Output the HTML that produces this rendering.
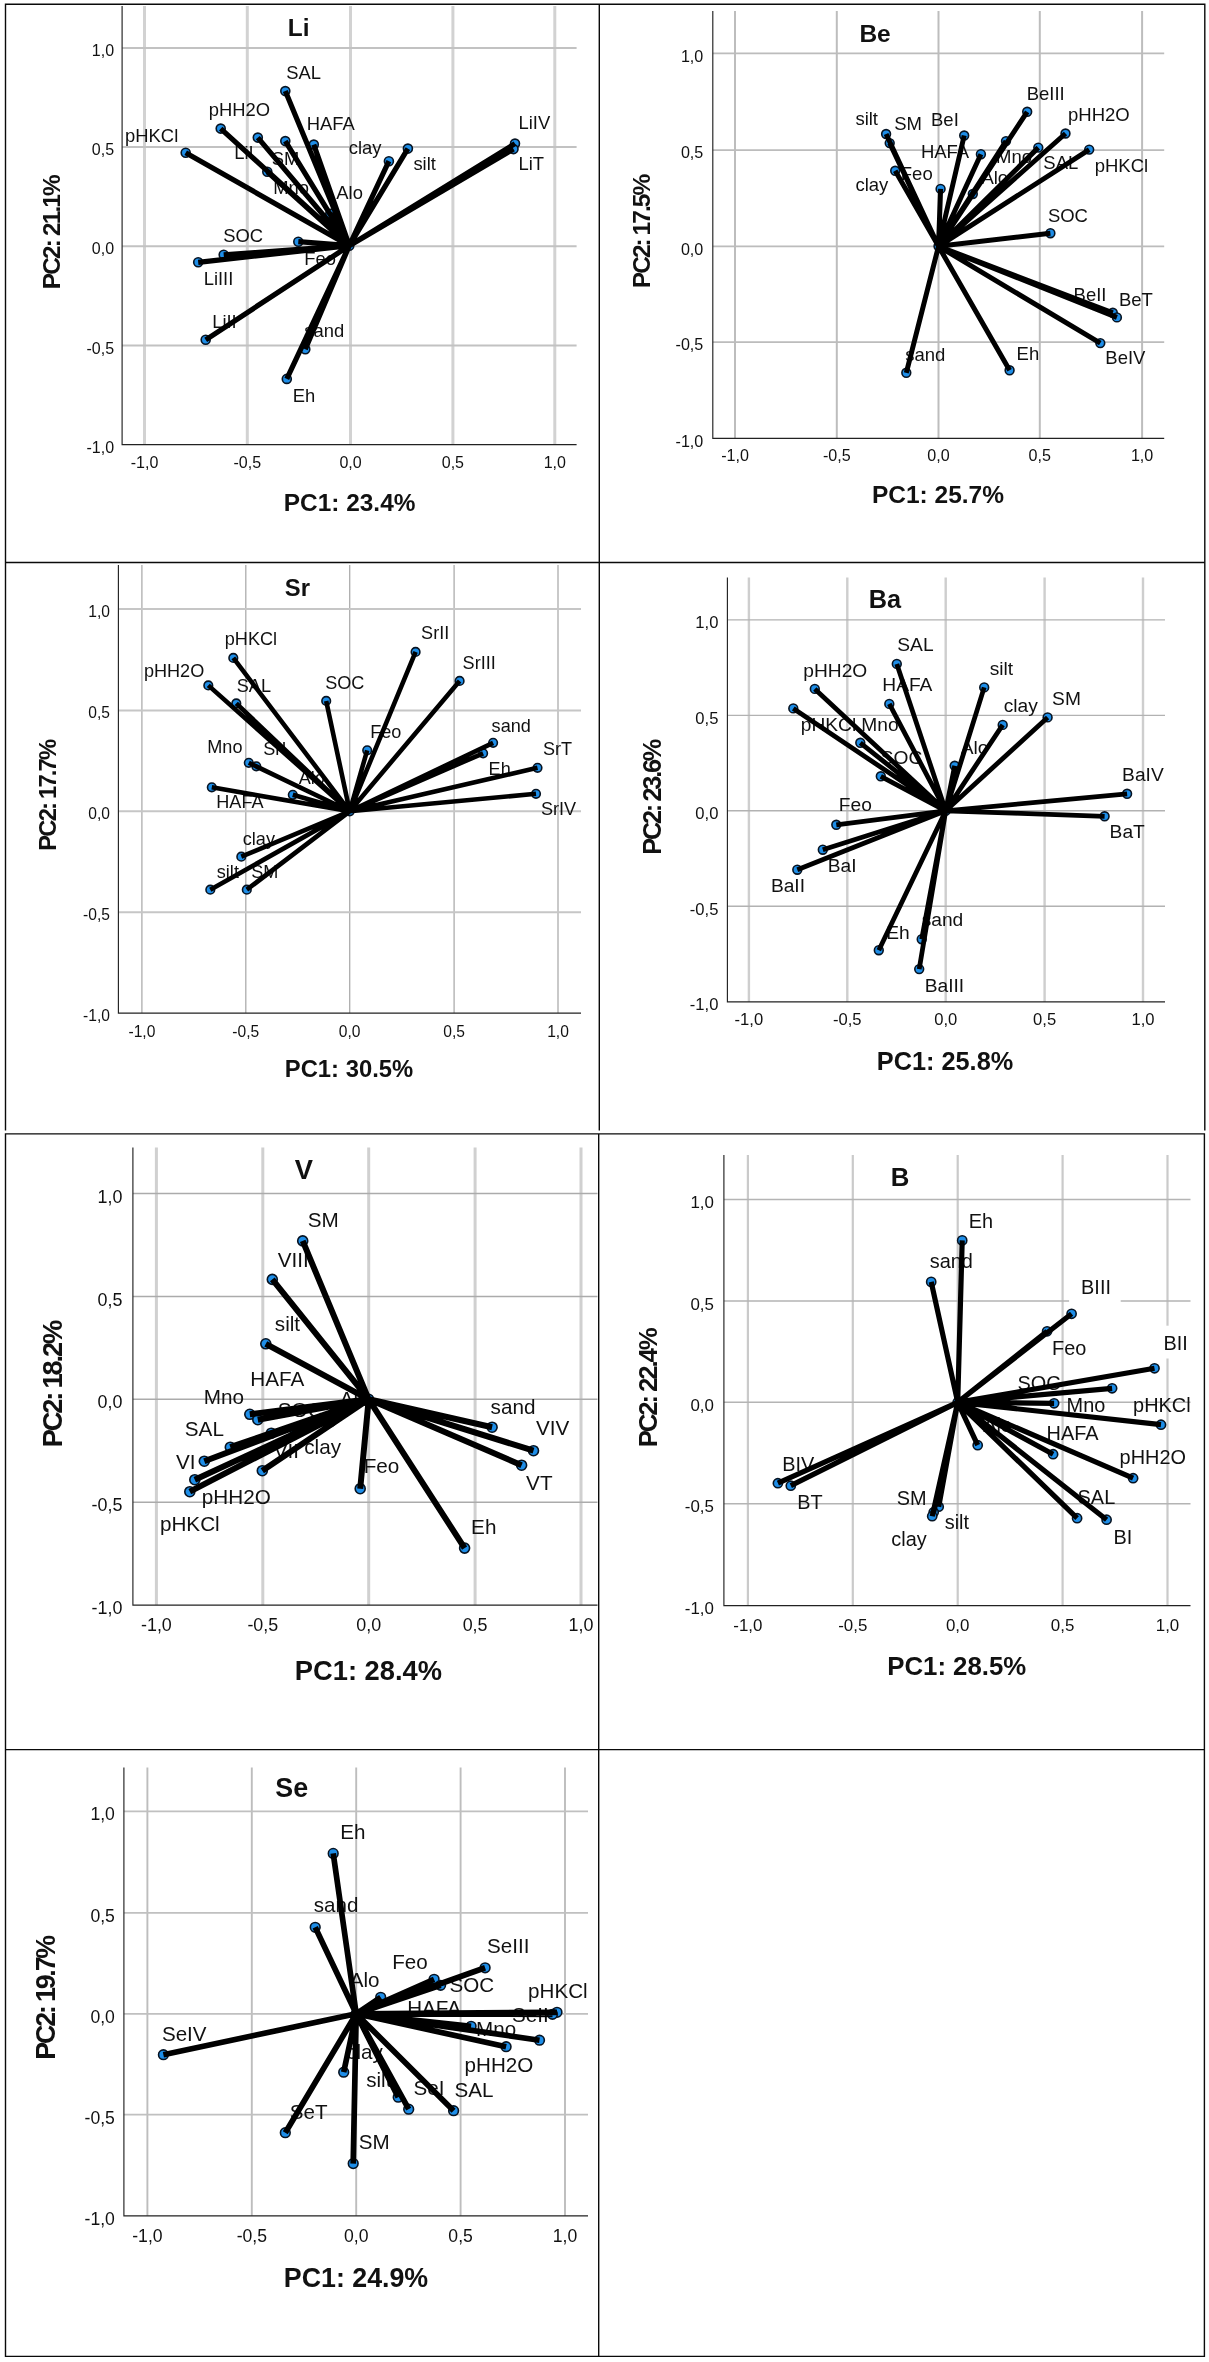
<!DOCTYPE html>
<html><head><meta charset="utf-8"><title>PCA biplots</title>
<style>html,body{margin:0;padding:0;background:#fff}svg{display:block;filter:blur(0.4px)}</style></head>
<body>
<svg width="1209" height="2362" viewBox="0 0 1209 2362" font-family="Liberation Sans, sans-serif">
<rect width="1209" height="2362" fill="#fff"/>
<g><path d="M144.5 6V444.6M247.3 6V444.6M350.5 6V444.6M452.9 6V444.6M554.8 6V444.6" stroke="#d2d2d2" stroke-width="3.0" fill="none"/><path d="M122.1 48H576.6M122.1 147.1H576.6M122.1 246.2H576.6M122.1 345.4H576.6" stroke="#c2c2c2" stroke-width="2.0" fill="none"/><path d="M122.1 6V444.6H576.6" stroke="#222" stroke-width="1.15" fill="none"/><g font-size="16" fill="#111"><text x="114.1" y="56.2" text-anchor="end">1,0</text><text x="114.1" y="155.3" text-anchor="end">0,5</text><text x="114.1" y="254.4" text-anchor="end">0,0</text><text x="114.1" y="353.6" text-anchor="end">-0,5</text><text x="114.1" y="452.8" text-anchor="end">-1,0</text><text x="144.5" y="468" text-anchor="middle">-1,0</text><text x="247.3" y="468" text-anchor="middle">-0,5</text><text x="350.5" y="468" text-anchor="middle">0,0</text><text x="452.9" y="468" text-anchor="middle">0,5</text><text x="554.8" y="468" text-anchor="middle">1,0</text></g><text x="287.8" y="36" font-size="24.4" font-weight="bold" fill="#111">Li</text><text x="283.8" y="510.5" font-size="24.4" font-weight="bold" fill="#111" textLength="131.6" lengthAdjust="spacing">PC1: 23.4%</text><text transform="translate(60.1 289.3) rotate(-90)" font-size="24.4" font-weight="bold" fill="#111" textLength="115.1" lengthAdjust="spacing">PC2: 21.1%</text><g font-size="18.4" fill="#111"><text x="286.3" y="79.4">SAL</text><text x="208.7" y="115.9">pHH2O</text><text x="125.1" y="142.4">pHKCl</text><text x="234.2" y="159">LiI</text><text x="271.8" y="164.5">SM</text><text x="306.8" y="129.9">HAFA</text><text x="273.3" y="193.5">Mno</text><text x="336.3" y="199">Alo</text><text x="348.8" y="153.5">clay</text><text x="413.4" y="170">silt</text><text x="518.5" y="129.4">LiIV</text><text x="518.5" y="170">LiT</text><text x="223.2" y="241.5">SOC</text><text x="304.3" y="264.6">Feo</text><text x="203.7" y="284.6">LiIII</text><text x="212.2" y="327.6">LiII</text><text x="304.3" y="337.1">sand</text><text x="292.8" y="401.7">Eh</text></g><g fill="#1e8ee8" stroke="#061322" stroke-width="1.6"><circle cx="285.3" cy="91.1" r="4.5"/><circle cx="220.7" cy="128.6" r="4.5"/><circle cx="185.7" cy="152.7" r="4.5"/><circle cx="257.8" cy="137.6" r="4.5"/><circle cx="285.3" cy="141.1" r="4.5"/><circle cx="313.8" cy="144.6" r="4.5"/><circle cx="267.3" cy="171.7" r="4.5"/><circle cx="330.3" cy="213.7" r="4.5"/><circle cx="388.9" cy="161.2" r="4.5"/><circle cx="407.9" cy="148.6" r="4.5"/><circle cx="515" cy="143.6" r="4.5"/><circle cx="513.5" cy="149.1" r="4.5"/><circle cx="298.3" cy="241.7" r="4.5"/><circle cx="223.7" cy="254.8" r="4.5"/><circle cx="198.2" cy="262.3" r="4.5"/><circle cx="205.7" cy="339.8" r="4.5"/><circle cx="305.3" cy="349.3" r="4.5"/><circle cx="286.8" cy="378.9" r="4.5"/><circle cx="349.3" cy="245.7" r="4.5"/></g><path d="M349.3 245.7L285.3 91.1M349.3 245.7L220.7 128.6M349.3 245.7L185.7 152.7M349.3 245.7L257.8 137.6M349.3 245.7L285.3 141.1M349.3 245.7L313.8 144.6M349.3 245.7L267.3 171.7M349.3 245.7L330.3 213.7M349.3 245.7L388.9 161.2M349.3 245.7L407.9 148.6M349.3 245.7L515 143.6M349.3 245.7L513.5 149.1M349.3 245.7L298.3 241.7M349.3 245.7L223.7 254.8M349.3 245.7L198.2 262.3M349.3 245.7L205.7 339.8M349.3 245.7L305.3 349.3M349.3 245.7L286.8 378.9" stroke="#000" stroke-width="5.2" stroke-linecap="butt" fill="none"/></g>
<g><path d="M735 11.1V438.3M836.8 11.1V438.3M938.5 11.1V438.3M1039.8 11.1V438.3M1142.1 11.1V438.3" stroke="#bdbdbd" stroke-width="2.0" fill="none"/><path d="M712.8 53.4H1164.2M712.8 150.1H1164.2M712.8 246.3H1164.2M712.8 342.1H1164.2" stroke="#bcbcbc" stroke-width="1.7" fill="none"/><path d="M712.8 11.1V438.3H1164.2" stroke="#222" stroke-width="1.15" fill="none"/><g font-size="16.1" fill="#111"><text x="703.3" y="61.6" text-anchor="end">1,0</text><text x="703.3" y="158.3" text-anchor="end">0,5</text><text x="703.3" y="254.5" text-anchor="end">0,0</text><text x="703.3" y="350.3" text-anchor="end">-0,5</text><text x="703.3" y="446.5" text-anchor="end">-1,0</text><text x="735" y="461" text-anchor="middle">-1,0</text><text x="836.8" y="461" text-anchor="middle">-0,5</text><text x="938.5" y="461" text-anchor="middle">0,0</text><text x="1039.8" y="461" text-anchor="middle">0,5</text><text x="1142.1" y="461" text-anchor="middle">1,0</text></g><text x="859.4" y="41.8" font-size="24.5" font-weight="bold" fill="#111">Be</text><text x="872" y="502.8" font-size="24.5" font-weight="bold" fill="#111" textLength="132" lengthAdjust="spacing">PC1: 25.7%</text><text transform="translate(650.4 288.2) rotate(-90)" font-size="24.5" font-weight="bold" fill="#111" textLength="114.4" lengthAdjust="spacing">PC2: 17.5%</text><g font-size="18.5" fill="#111"><text x="855.4" y="125.4">silt</text><text x="894.2" y="130">SM</text><text x="931" y="126.4">BeI</text><text x="1026.7" y="99.7">BeIII</text><text x="1068" y="121.4">pHH2O</text><text x="920.9" y="158.2">HAFA</text><text x="996" y="163.2">Mno</text><text x="1043.3" y="169.3">SAL</text><text x="1094.7" y="171.8">pHKCl</text><text x="855.4" y="191.4">clay</text><text x="900.8" y="180.3">Feo</text><text x="981.4" y="183.9">Alo</text><text x="1047.9" y="221.7">SOC</text><text x="1073.6" y="300.8">BeII</text><text x="1118.9" y="305.8">BeT</text><text x="1105.3" y="363.7">BeIV</text><text x="1016.6" y="359.7">Eh</text><text x="905.3" y="361.2">sand</text></g><g fill="#1e8ee8" stroke="#061322" stroke-width="1.6"><circle cx="886.1" cy="134" r="4.4"/><circle cx="889.7" cy="143.1" r="4.4"/><circle cx="895.2" cy="170.8" r="4.4"/><circle cx="940.6" cy="188.9" r="4.4"/><circle cx="964.2" cy="135.5" r="4.4"/><circle cx="980.9" cy="154.2" r="4.4"/><circle cx="972.8" cy="194" r="4.4"/><circle cx="1006" cy="141.1" r="4.4"/><circle cx="1027.2" cy="111.8" r="4.4"/><circle cx="1038.3" cy="147.6" r="4.4"/><circle cx="1065.5" cy="133.5" r="4.4"/><circle cx="1089.2" cy="149.6" r="4.4"/><circle cx="1050.4" cy="233.2" r="4.4"/><circle cx="1112.8" cy="312.8" r="4.4"/><circle cx="1116.9" cy="317.4" r="4.4"/><circle cx="1100.3" cy="343.1" r="4.4"/><circle cx="1009.6" cy="370.3" r="4.4"/><circle cx="906.3" cy="372.8" r="4.4"/><circle cx="938.5" cy="246.3" r="4.4"/></g><path d="M938.5 246.3L886.1 134M938.5 246.3L889.7 143.1M938.5 246.3L895.2 170.8M938.5 246.3L940.6 188.9M938.5 246.3L964.2 135.5M938.5 246.3L980.9 154.2M938.5 246.3L972.8 194M938.5 246.3L1006 141.1M938.5 246.3L1027.2 111.8M938.5 246.3L1038.3 147.6M938.5 246.3L1065.5 133.5M938.5 246.3L1089.2 149.6M938.5 246.3L1050.4 233.2M938.5 246.3L1112.8 312.8M938.5 246.3L1116.9 317.4M938.5 246.3L1100.3 343.1M938.5 246.3L1009.6 370.3M938.5 246.3L906.3 372.8" stroke="#000" stroke-width="5.0" stroke-linecap="butt" fill="none"/></g>
<g><path d="M141.9 565V1013.1M245.8 565V1013.1M349.7 565V1013.1M454.1 565V1013.1M558 565V1013.1" stroke="#adadad" stroke-width="1.3" fill="none"/><path d="M118.4 609H581M118.4 710.4H581M118.4 811.3H581M118.4 912.2H581" stroke="#c6c6c6" stroke-width="2.0" fill="none"/><path d="M118.4 565V1013.1H581" stroke="#222" stroke-width="1.15" fill="none"/><g font-size="15.6" fill="#111"><text x="109.9" y="616.9" text-anchor="end">1,0</text><text x="109.9" y="718.3" text-anchor="end">0,5</text><text x="109.9" y="819.2" text-anchor="end">0,0</text><text x="109.9" y="920.2" text-anchor="end">-0,5</text><text x="109.9" y="1021.1" text-anchor="end">-1,0</text><text x="141.9" y="1036.6" text-anchor="middle">-1,0</text><text x="245.8" y="1036.6" text-anchor="middle">-0,5</text><text x="349.7" y="1036.6" text-anchor="middle">0,0</text><text x="454.1" y="1036.6" text-anchor="middle">0,5</text><text x="558" y="1036.6" text-anchor="middle">1,0</text></g><text x="284.8" y="596" font-size="23.8" font-weight="bold" fill="#111">Sr</text><text x="284.8" y="1077.1" font-size="23.8" font-weight="bold" fill="#111" textLength="128.4" lengthAdjust="spacing">PC1: 30.5%</text><text transform="translate(56 850.7) rotate(-90)" font-size="23.8" font-weight="bold" fill="#111" textLength="111.9" lengthAdjust="spacing">PC2: 17.7%</text><g font-size="18.1" fill="#111"><text x="224.8" y="645.4">pHKCl</text><text x="143.9" y="676.9">pHH2O</text><text x="236.8" y="691.9">SAL</text><text x="325.2" y="689.4">SOC</text><text x="421.1" y="639.4">SrII</text><text x="462.6" y="668.9">SrIII</text><text x="370.2" y="738.3">Feo</text><text x="491.6" y="731.9">sand</text><text x="543" y="754.8">SrT</text><text x="488.6" y="775.3">Eh</text><text x="541" y="815.3">SrIV</text><text x="207.3" y="753.3">Mno</text><text x="263.3" y="754.8">SrI</text><text x="298.7" y="784.3">Alo</text><text x="216.3" y="808.3">HAFA</text><text x="242.8" y="845.3">clay</text><text x="216.8" y="877.7">silt</text><text x="251.3" y="878.2">SM</text></g><g fill="#1e8ee8" stroke="#061322" stroke-width="1.6"><circle cx="233.3" cy="657.9" r="4.3"/><circle cx="208.3" cy="685.4" r="4.3"/><circle cx="236.3" cy="703.4" r="4.3"/><circle cx="326.2" cy="700.9" r="4.3"/><circle cx="415.6" cy="651.9" r="4.3"/><circle cx="459.6" cy="680.9" r="4.3"/><circle cx="367.2" cy="750.3" r="4.3"/><circle cx="493.1" cy="742.8" r="4.3"/><circle cx="483.1" cy="753.3" r="4.3"/><circle cx="537.5" cy="767.8" r="4.3"/><circle cx="536" cy="793.8" r="4.3"/><circle cx="248.8" cy="762.8" r="4.3"/><circle cx="256.3" cy="766.3" r="4.3"/><circle cx="292.8" cy="794.8" r="4.3"/><circle cx="211.8" cy="787.3" r="4.3"/><circle cx="241.3" cy="856.7" r="4.3"/><circle cx="210.3" cy="889.7" r="4.3"/><circle cx="246.8" cy="889.7" r="4.3"/><circle cx="349.7" cy="811.3" r="4.3"/></g><path d="M349.7 811.3L233.3 657.9M349.7 811.3L208.3 685.4M349.7 811.3L236.3 703.4M349.7 811.3L326.2 700.9M349.7 811.3L415.6 651.9M349.7 811.3L459.6 680.9M349.7 811.3L367.2 750.3M349.7 811.3L493.1 742.8M349.7 811.3L483.1 753.3M349.7 811.3L537.5 767.8M349.7 811.3L536 793.8M349.7 811.3L248.8 762.8M349.7 811.3L256.3 766.3M349.7 811.3L292.8 794.8M349.7 811.3L211.8 787.3M349.7 811.3L241.3 856.7M349.7 811.3L210.3 889.7M349.7 811.3L246.8 889.7" stroke="#000" stroke-width="4.6" stroke-linecap="butt" fill="none"/></g>
<g><path d="M748.9 577.5V1001.9M847.3 577.5V1001.9M945.7 577.5V1001.9M1044.6 577.5V1001.9M1143 577.5V1001.9" stroke="#cecece" stroke-width="2.4" fill="none"/><path d="M727.4 619.9H1165M727.4 715.4H1165M727.4 810.8H1165M727.4 906.2H1165" stroke="#b2b2b2" stroke-width="1.4" fill="none"/><path d="M727.4 577.5V1001.9H1165" stroke="#222" stroke-width="1.15" fill="none"/><g font-size="16.6" fill="#111"><text x="718.4" y="628.4" text-anchor="end">1,0</text><text x="718.4" y="723.8" text-anchor="end">0,5</text><text x="718.4" y="819.2" text-anchor="end">0,0</text><text x="718.4" y="914.7" text-anchor="end">-0,5</text><text x="718.4" y="1010.3" text-anchor="end">-1,0</text><text x="748.9" y="1025.1" text-anchor="middle">-1,0</text><text x="847.3" y="1025.1" text-anchor="middle">-0,5</text><text x="945.7" y="1025.1" text-anchor="middle">0,0</text><text x="1044.6" y="1025.1" text-anchor="middle">0,5</text><text x="1143" y="1025.1" text-anchor="middle">1,0</text></g><text x="868.8" y="608" font-size="25.3" font-weight="bold" fill="#111">Ba</text><text x="876.8" y="1069.6" font-size="25.3" font-weight="bold" fill="#111" textLength="136.4" lengthAdjust="spacing">PC1: 25.8%</text><text transform="translate(661 854.7) rotate(-90)" font-size="25.3" font-weight="bold" fill="#111" textLength="115.9" lengthAdjust="spacing">PC2: 23.6%</text><g font-size="19.2" fill="#111"><text x="897.3" y="650.9">SAL</text><text x="803.3" y="677.4">pHH2O</text><text x="882.3" y="691.4">HAFA</text><text x="989.7" y="675.4">silt</text><text x="1003.7" y="712.4">clay</text><text x="1052.1" y="705.4">SM</text><text x="800.8" y="731.4">pHKCl</text><text x="861.3" y="731.4">Mno</text><text x="880.8" y="763.8">SOC</text><text x="960.7" y="754.3">Alo</text><text x="1122.1" y="780.8">BaIV</text><text x="1109.6" y="838.3">BaT</text><text x="838.8" y="811.3">Feo</text><text x="827.8" y="871.7">BaI</text><text x="770.9" y="892.2">BaII</text><text x="886.3" y="938.7">Eh</text><text x="921.7" y="926.2">sand</text><text x="924.7" y="991.6">BaIII</text></g><g fill="#1e8ee8" stroke="#061322" stroke-width="1.6"><circle cx="896.8" cy="663.9" r="4.4"/><circle cx="814.8" cy="688.9" r="4.4"/><circle cx="793.3" cy="708.4" r="4.4"/><circle cx="889.3" cy="703.9" r="4.4"/><circle cx="860.3" cy="742.8" r="4.4"/><circle cx="880.8" cy="776.3" r="4.4"/><circle cx="954.7" cy="765.8" r="4.4"/><circle cx="984.2" cy="687.4" r="4.4"/><circle cx="1002.7" cy="724.9" r="4.4"/><circle cx="1047.6" cy="717.4" r="4.4"/><circle cx="1127.1" cy="793.8" r="4.4"/><circle cx="1104.6" cy="816.3" r="4.4"/><circle cx="836.3" cy="824.8" r="4.4"/><circle cx="822.8" cy="849.7" r="4.4"/><circle cx="797.3" cy="869.7" r="4.4"/><circle cx="878.8" cy="950.2" r="4.4"/><circle cx="921.7" cy="939.2" r="4.4"/><circle cx="919.2" cy="969.1" r="4.4"/><circle cx="945.7" cy="810.8" r="4.4"/></g><path d="M945.7 810.8L896.8 663.9M945.7 810.8L814.8 688.9M945.7 810.8L793.3 708.4M945.7 810.8L889.3 703.9M945.7 810.8L860.3 742.8M945.7 810.8L880.8 776.3M945.7 810.8L954.7 765.8M945.7 810.8L984.2 687.4M945.7 810.8L1002.7 724.9M945.7 810.8L1047.6 717.4M945.7 810.8L1127.1 793.8M945.7 810.8L1104.6 816.3M945.7 810.8L836.3 824.8M945.7 810.8L822.8 849.7M945.7 810.8L797.3 869.7M945.7 810.8L878.8 950.2M945.7 810.8L921.7 939.2M945.7 810.8L919.2 969.1" stroke="#000" stroke-width="4.8" stroke-linecap="butt" fill="none"/></g>
<g><path d="M156.4 1147.5V1605.1M262.8 1147.5V1605.1M368.7 1147.5V1605.1M475.1 1147.5V1605.1M581 1147.5V1605.1" stroke="#d0d0d0" stroke-width="3.0" fill="none"/><path d="M132.9 1193.4H597.5M132.9 1296.4H597.5M132.9 1399.3H597.5M132.9 1502.2H597.5" stroke="#ababab" stroke-width="1.5" fill="none"/><path d="M132.9 1147.5V1605.1H597.5" stroke="#222" stroke-width="1.15" fill="none"/><g font-size="17.9" fill="#111"><text x="122.4" y="1202.6" text-anchor="end">1,0</text><text x="122.4" y="1305.5" text-anchor="end">0,5</text><text x="122.4" y="1408.4" text-anchor="end">0,0</text><text x="122.4" y="1511.3" text-anchor="end">-0,5</text><text x="122.4" y="1614.2" text-anchor="end">-1,0</text><text x="156.4" y="1631" text-anchor="middle">-1,0</text><text x="262.8" y="1631" text-anchor="middle">-0,5</text><text x="368.7" y="1631" text-anchor="middle">0,0</text><text x="475.1" y="1631" text-anchor="middle">0,5</text><text x="581" y="1631" text-anchor="middle">1,0</text></g><text x="294.7" y="1179" font-size="27.3" font-weight="bold" fill="#111">V</text><text x="294.7" y="1679.5" font-size="27.3" font-weight="bold" fill="#111" textLength="147.4" lengthAdjust="spacing">PC1: 28.4%</text><text transform="translate(62.4 1447.2) rotate(-90)" font-size="27.3" font-weight="bold" fill="#111" textLength="127.4" lengthAdjust="spacing">PC2: 18.2%</text><g font-size="20.7" fill="#111"><text x="307.7" y="1227.1">SM</text><text x="277.8" y="1266.6">VIII</text><text x="274.8" y="1330.5">silt</text><text x="250.3" y="1385.5">HAFA</text><text x="203.8" y="1403.5">Mno</text><text x="277.8" y="1417">SOC</text><text x="339.7" y="1405.5">Alo</text><text x="184.8" y="1436.4">SAL</text><text x="175.9" y="1468.9">VI</text><text x="273.8" y="1457.9">VII</text><text x="304.2" y="1454.4">clay</text><text x="201.8" y="1503.9">pHH2O</text><text x="159.9" y="1531.4">pHKCl</text><text x="363.7" y="1473.4">Feo</text><text x="490.6" y="1413.5">sand</text><text x="536" y="1435.4">VIV</text><text x="526.1" y="1490.4">VT</text><text x="471.1" y="1534.4">Eh</text></g><g fill="#1e8ee8" stroke="#061322" stroke-width="1.6"><circle cx="302.7" cy="1240.9" r="5.0"/><circle cx="272.3" cy="1279.4" r="5.0"/><circle cx="265.8" cy="1343.8" r="5.0"/><circle cx="249.8" cy="1414.3" r="5.0"/><circle cx="257.8" cy="1419.7" r="5.0"/><circle cx="271.3" cy="1433.2" r="5.0"/><circle cx="230.3" cy="1447.2" r="5.0"/><circle cx="204.3" cy="1461.2" r="5.0"/><circle cx="194.8" cy="1479.7" r="5.0"/><circle cx="189.8" cy="1491.7" r="5.0"/><circle cx="262.3" cy="1470.7" r="5.0"/><circle cx="295.1" cy="1430.3" r="5.0"/><circle cx="330.3" cy="1421.6" r="5.0"/><circle cx="360.2" cy="1488.7" r="5.0"/><circle cx="492.1" cy="1427.2" r="5.0"/><circle cx="533.5" cy="1450.7" r="5.0"/><circle cx="521.6" cy="1465.2" r="5.0"/><circle cx="464.6" cy="1548.1" r="5.0"/><circle cx="368.7" cy="1399.3" r="5.0"/></g><path d="M368.7 1399.3L302.7 1240.9M368.7 1399.3L272.3 1279.4M368.7 1399.3L265.8 1343.8M368.7 1399.3L249.8 1414.3M368.7 1399.3L257.8 1419.7M368.7 1399.3L271.3 1433.2M368.7 1399.3L230.3 1447.2M368.7 1399.3L204.3 1461.2M368.7 1399.3L194.8 1479.7M368.7 1399.3L189.8 1491.7M368.7 1399.3L262.3 1470.7M368.7 1399.3L295.1 1430.3M368.7 1399.3L330.3 1421.6M368.7 1399.3L360.2 1488.7M368.7 1399.3L492.1 1427.2M368.7 1399.3L533.5 1450.7M368.7 1399.3L521.6 1465.2M368.7 1399.3L464.6 1548.1" stroke="#000" stroke-width="6.0" stroke-linecap="butt" fill="none"/></g>
<g><path d="M747.9 1155V1605.6M852.8 1155V1605.6M957.7 1155V1605.6M1062.6 1155V1605.6M1167.5 1155V1605.6" stroke="#cacaca" stroke-width="2.2" fill="none"/><path d="M723.9 1199.4H1190.5M723.9 1300.9H1190.5M723.9 1402.3H1190.5M723.9 1503.7H1190.5" stroke="#b4b4b4" stroke-width="1.5" fill="none"/><rect x="1069.1" y="1275.9" width="51.6" height="28" fill="#fff"/><rect x="1160" y="1325.7" width="32" height="32.8" fill="#fff"/><path d="M723.9 1155V1605.6H1190.5" stroke="#222" stroke-width="1.15" fill="none"/><g font-size="16.9" fill="#111"><text x="713.9" y="1208.1" text-anchor="end">1,0</text><text x="713.9" y="1309.5" text-anchor="end">0,5</text><text x="713.9" y="1410.9" text-anchor="end">0,0</text><text x="713.9" y="1512.3" text-anchor="end">-0,5</text><text x="713.9" y="1614.2" text-anchor="end">-1,0</text><text x="747.9" y="1631.3" text-anchor="middle">-1,0</text><text x="852.8" y="1631.3" text-anchor="middle">-0,5</text><text x="957.7" y="1631.3" text-anchor="middle">0,0</text><text x="1062.6" y="1631.3" text-anchor="middle">0,5</text><text x="1167.5" y="1631.3" text-anchor="middle">1,0</text></g><text x="890.8" y="1185.9" font-size="25.8" font-weight="bold" fill="#111">B</text><text x="887.3" y="1674.5" font-size="25.8" font-weight="bold" fill="#111" textLength="138.9" lengthAdjust="spacing">PC1: 28.5%</text><text transform="translate(656.5 1447.2) rotate(-90)" font-size="25.8" font-weight="bold" fill="#111" textLength="119.9" lengthAdjust="spacing">PC2: 22.4%</text><g font-size="19.9" fill="#111"><text x="968.7" y="1227.9">Eh</text><text x="929.7" y="1267.9">sand</text><text x="1081.1" y="1294.4">BIII</text><text x="1052.1" y="1354.8">Feo</text><text x="1163.5" y="1350.3">BII</text><text x="1017.6" y="1389.8">SOC</text><text x="1066.6" y="1412.3">Mno</text><text x="1133.1" y="1412.3">pHKCl</text><text x="983.2" y="1432.2">Alo</text><text x="1046.6" y="1440.2">HAFA</text><text x="1119.6" y="1464.2">pHH2O</text><text x="1077.6" y="1503.7">SAL</text><text x="1113.6" y="1544.1">BI</text><text x="782.3" y="1470.7">BIV</text><text x="797.3" y="1509.2">BT</text><text x="896.8" y="1505.2">SM</text><text x="944.7" y="1529.2">silt</text><text x="891.3" y="1545.6">clay</text></g><g fill="#1e8ee8" stroke="#061322" stroke-width="1.6"><circle cx="962.2" cy="1240.4" r="4.6"/><circle cx="931.2" cy="1281.9" r="4.6"/><circle cx="1071.6" cy="1313.8" r="4.6"/><circle cx="1047.1" cy="1331.3" r="4.6"/><circle cx="1154.5" cy="1368.3" r="4.6"/><circle cx="1112.1" cy="1388.3" r="4.6"/><circle cx="1054.1" cy="1403.3" r="4.6"/><circle cx="1161" cy="1424.7" r="4.6"/><circle cx="1053.1" cy="1454.2" r="4.6"/><circle cx="977.7" cy="1445.2" r="4.6"/><circle cx="1133.1" cy="1478.2" r="4.6"/><circle cx="1077.1" cy="1518.2" r="4.6"/><circle cx="1106.6" cy="1519.7" r="4.6"/><circle cx="777.9" cy="1483.2" r="4.6"/><circle cx="790.8" cy="1485.7" r="4.6"/><circle cx="938.7" cy="1506.7" r="4.6"/><circle cx="933.7" cy="1512.2" r="4.6"/><circle cx="932.2" cy="1516.2" r="4.6"/><circle cx="957.7" cy="1402.3" r="4.6"/></g><path d="M957.7 1402.3L962.2 1240.4M957.7 1402.3L931.2 1281.9M957.7 1402.3L1071.6 1313.8M957.7 1402.3L1047.1 1331.3M957.7 1402.3L1154.5 1368.3M957.7 1402.3L1112.1 1388.3M957.7 1402.3L1054.1 1403.3M957.7 1402.3L1161 1424.7M957.7 1402.3L1053.1 1454.2M957.7 1402.3L977.7 1445.2M957.7 1402.3L1133.1 1478.2M957.7 1402.3L1077.1 1518.2M957.7 1402.3L1106.6 1519.7M957.7 1402.3L777.9 1483.2M957.7 1402.3L790.8 1485.7M957.7 1402.3L938.7 1506.7M957.7 1402.3L933.7 1512.2M957.7 1402.3L932.2 1516.2" stroke="#000" stroke-width="5.2" stroke-linecap="butt" fill="none"/></g>
<g><path d="M147.4 1767.5V2215.8M251.8 1767.5V2215.8M356.2 1767.5V2215.8M460.6 1767.5V2215.8M565 1767.5V2215.8" stroke="#bdbdbd" stroke-width="1.9" fill="none"/><path d="M123.9 1811.4H588M123.9 1912.9H588M123.9 2013.8H588M123.9 2114.7H588" stroke="#c0c0c0" stroke-width="1.8" fill="none"/><path d="M123.9 1767.5V2215.8H588" stroke="#222" stroke-width="1.15" fill="none"/><g font-size="17.6" fill="#111"><text x="114.9" y="1820.4" text-anchor="end">1,0</text><text x="114.9" y="1921.8" text-anchor="end">0,5</text><text x="114.9" y="2022.7" text-anchor="end">0,0</text><text x="114.9" y="2123.6" text-anchor="end">-0,5</text><text x="114.9" y="2224.8" text-anchor="end">-1,0</text><text x="147.4" y="2242.1" text-anchor="middle">-1,0</text><text x="251.8" y="2242.1" text-anchor="middle">-0,5</text><text x="356.2" y="2242.1" text-anchor="middle">0,0</text><text x="460.6" y="2242.1" text-anchor="middle">0,5</text><text x="565" y="2242.1" text-anchor="middle">1,0</text></g><text x="275.3" y="1796.5" font-size="26.8" font-weight="bold" fill="#111">Se</text><text x="283.8" y="2287" font-size="26.8" font-weight="bold" fill="#111" textLength="144.4" lengthAdjust="spacing">PC1: 24.9%</text><text transform="translate(55 2059.7) rotate(-90)" font-size="26.8" font-weight="bold" fill="#111" textLength="124.9" lengthAdjust="spacing">PC2: 19.7%</text><g font-size="20.6" fill="#111"><text x="340.2" y="1839.2">Eh</text><text x="313.7" y="1912.2">sand</text><text x="487.1" y="1952.6">SeIII</text><text x="392.2" y="1969.1">Feo</text><text x="449.6" y="1991.6">SOC</text><text x="349.7" y="1986.6">Alo</text><text x="528.1" y="1997.6">pHKCl</text><text x="407.2" y="2014.6">HAFA</text><text x="512.1" y="2021.6">SeII</text><text x="476.1" y="2035.5">Mno</text><text x="464.6" y="2072">pHH2O</text><text x="161.9" y="2040.5">SeIV</text><text x="346.2" y="2058.5">clay</text><text x="366.2" y="2087">silt</text><text x="413.6" y="2094.5">SeI</text><text x="454.6" y="2096.5">SAL</text><text x="289.8" y="2118.5">SeT</text><text x="358.7" y="2149">SM</text></g><g fill="#1e8ee8" stroke="#061322" stroke-width="1.6"><circle cx="333.2" cy="1853.4" r="4.85"/><circle cx="315.2" cy="1927.3" r="4.85"/><circle cx="485.1" cy="1967.8" r="4.85"/><circle cx="434.1" cy="1979.3" r="4.85"/><circle cx="440.6" cy="1985.3" r="4.85"/><circle cx="380.7" cy="1997.3" r="4.85"/><circle cx="557" cy="2012.3" r="4.85"/><circle cx="552.5" cy="2014.3" r="4.85"/><circle cx="471.1" cy="2026.3" r="4.85"/><circle cx="539.5" cy="2040.2" r="4.85"/><circle cx="506.1" cy="2046.7" r="4.85"/><circle cx="163.4" cy="2054.7" r="4.85"/><circle cx="343.7" cy="2072.2" r="4.85"/><circle cx="398.2" cy="2097.2" r="4.85"/><circle cx="408.7" cy="2109.2" r="4.85"/><circle cx="453.6" cy="2110.7" r="4.85"/><circle cx="285.3" cy="2132.7" r="4.85"/><circle cx="353.2" cy="2163.6" r="4.85"/><circle cx="356.2" cy="2013.8" r="4.85"/></g><path d="M356.2 2013.8L333.2 1853.4M356.2 2013.8L315.2 1927.3M356.2 2013.8L485.1 1967.8M356.2 2013.8L434.1 1979.3M356.2 2013.8L440.6 1985.3M356.2 2013.8L380.7 1997.3M356.2 2013.8L557 2012.3M356.2 2013.8L552.5 2014.3M356.2 2013.8L471.1 2026.3M356.2 2013.8L539.5 2040.2M356.2 2013.8L506.1 2046.7M356.2 2013.8L163.4 2054.7M356.2 2013.8L343.7 2072.2M356.2 2013.8L398.2 2097.2M356.2 2013.8L408.7 2109.2M356.2 2013.8L453.6 2110.7M356.2 2013.8L285.3 2132.7M356.2 2013.8L353.2 2163.6" stroke="#000" stroke-width="5.7" stroke-linecap="butt" fill="none"/></g>
<g stroke="#0a0a0a" stroke-width="1.4" fill="none">
<path d="M5.5 1130.5V4.3H1204.8V1130.5"/>
<path d="M599.3 4.3V1130.5"/>
<path d="M5.5 562.5H1204.8"/>
<path d="M5.5 1133.9H1204.4V2356.4H5.5Z"/>
<path d="M598.7 1133.9V2356.4"/>
<path d="M5.5 1749.6H1204.4"/>
</g>
</svg>
</body></html>
